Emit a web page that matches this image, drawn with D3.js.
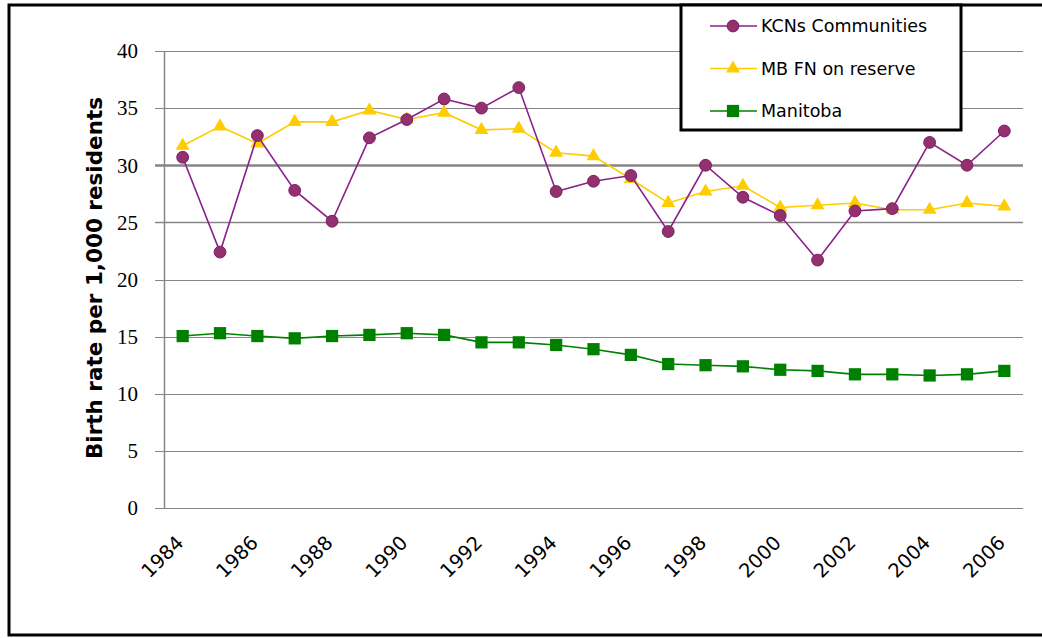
<!DOCTYPE html>
<html>
<head>
<meta charset="utf-8">
<script src="https://cdn.jsdelivr.net/npm/d3@7"></script>
<style>
  body { margin: 0; background: #fff; }
  svg { display: block; }
</style>
</head>
<body>
<div id="chart"></div>
<script>
const years = [1984, 1985, 1986, 1987, 1988, 1989, 1990, 1991, 1992, 1993, 1994, 1995,
  1996, 1997, 1998, 1999, 2000, 2001, 2002, 2003, 2004, 2005, 2006];
const kcns = [30.7, 22.4, 32.6, 27.8, 25.1, 32.4, 34.0, 35.8, 35.0, 36.8, 27.7, 28.6,
  29.1, 24.2, 30.0, 27.2, 25.6, 21.7, 26.0, 26.2, 32.0, 30.0, 33.0];
const mbfn = [31.7, 33.4, 31.9, 33.8, 33.8, 34.8, 34.0, 34.6, 33.1, 33.2, 31.1, 30.8,
  28.8, 26.7, 27.7, 28.2, 26.3, 26.5, 26.7, 26.1, 26.1, 26.7, 26.4];
const manitoba = [15.05, 15.3, 15.05, 14.85, 15.05, 15.15, 15.3, 15.15, 14.5, 14.5, 14.27, 13.9,
  13.4, 12.6, 12.5, 12.4, 12.1, 12.0, 11.7, 11.7, 11.6, 11.7, 12.0];
const yTicks = [0, 5, 10, 15, 20, 25, 30, 35, 40];
const xLabels = [1984, 1986, 1988, 1990, 1992, 1994, 1996, 1998, 2000, 2002, 2004, 2006];

const W = 1042, H = 638;
const m = { top: 51, right: 19, bottom: 130, left: 164 };
const w = W - m.left - m.right, h = H - m.top - m.bottom;

const svg = d3.select('#chart').append('svg').attr('width', W).attr('height', H);

// Rahmen (rechte Kante liegt ausserhalb des Bildes)
svg.append('path')
  .attr('d', `M${W + 5},5 H9 V635 H${W + 5}`)
  .attr('fill', 'none').attr('stroke', '#000').attr('stroke-width', 3);

const g = svg.append('g').attr('transform', `translate(${m.left},${m.top})`);

const x = d3.scaleBand().domain(years).range([0, w]);
const y = d3.scaleLinear().domain([0, 40]).range([h, 0]);
const cx = d => x(d) + x.bandwidth() / 2;

// Gitterlinien
g.selectAll('.grid').data(yTicks).join('line')
  .attr('x1', -9).attr('x2', w)
  .attr('y1', d => Math.round(y(d)) + 0.5).attr('y2', d => Math.round(y(d)) + 0.5)
  .attr('stroke', '#868686')
  .attr('stroke-width', d => d === 30 ? 2.5 : (d === 25 ? 1.6 : 1.2));

// Y-Achse
g.append('line').attr('x1', 0.5).attr('x2', 0.5).attr('y1', 0).attr('y2', h)
  .attr('stroke', '#868686').attr('stroke-width', 1.5);

g.selectAll('.ylbl').data(yTicks).join('text')
  .attr('x', -26).attr('y', d => y(d))
  .attr('dy', '0.35em').attr('text-anchor', 'end')
  .attr('font-family', '"Liberation Serif", serif').attr('font-size', 21)
  .attr('fill', '#000').text(d => d);

// X-Beschriftung
g.selectAll('.xlbl').data(xLabels).join('text')
  .attr('transform', d => `translate(${cx(d) + 2},${h + 36}) rotate(-45)`)
  .attr('text-anchor', 'end')
  .attr('font-family', '"DejaVu Sans", sans-serif').attr('font-size', 19.5)
  .attr('fill', '#000').text(d => d);

// Achsentitel
svg.append('text')
  .attr('transform', `translate(102,278) rotate(-90)`)
  .attr('text-anchor', 'middle')
  .attr('font-family', '"DejaVu Sans", sans-serif').attr('font-weight', 'bold')
  .attr('font-size', 21.5).attr('fill', '#000')
  .text('Birth rate per 1,000 residents');

const series = [
  { name: 'KCNs Communities', values: kcns, line: '#8B1F8B', fill: '#95306E', shape: 'circle' },
  { name: 'MB FN on reserve', values: mbfn, line: '#FFCC00', fill: '#FFCC00', shape: 'triangle' },
  { name: 'Manitoba', values: manitoba, line: '#008000', fill: '#008000', shape: 'square' }
];

const symbolOf = s => {
  if (s === 'circle') return d3.symbol(d3.symbolCircle, 110)();
  if (s === 'triangle') return d3.symbol(d3.symbolTriangle, 85)();
  return d3.symbol(d3.symbolSquare, 150)();
};

const line = d3.line().x(d => cx(d.year)).y(d => y(d.v));

// Manitoba zuerst, dann MB FN, dann KCNs
[series[2], series[1], series[0]].forEach(s => {
  const pts = years.map((yr, i) => ({ year: yr, v: s.values[i] }));
  g.append('path').datum(pts).attr('d', line)
    .attr('fill', 'none').attr('stroke', s.line).attr('stroke-width', 1.6);
  g.selectAll(null).data(pts).join('path')
    .attr('transform', d => `translate(${cx(d.year)},${y(d.v)})`)
    .attr('d', symbolOf(s.shape))
    .attr('fill', s.fill)
    .attr('stroke', s.shape === 'circle' ? '#7A1F6A' : 'none').attr('stroke-width', 1);
});

// Legende
const lg = svg.append('g').attr('transform', 'translate(681,5)');
lg.append('rect').attr('x', 0).attr('y', 0).attr('width', 280).attr('height', 125)
  .attr('fill', '#fff').attr('stroke', '#000').attr('stroke-width', 3);
series.forEach((s, i) => {
  const ry = 21 + i * 42.5;
  lg.append('line').attr('x1', 29).attr('x2', 76).attr('y1', ry).attr('y2', ry)
    .attr('stroke', s.line).attr('stroke-width', 1.6);
  lg.append('path').attr('transform', `translate(52,${ry})`).attr('d', symbolOf(s.shape))
    .attr('fill', s.fill)
    .attr('stroke', s.shape === 'circle' ? '#7A1F6A' : 'none');
  lg.append('text').attr('x', 80).attr('y', ry).attr('dy', '0.35em')
    .attr('font-family', '"DejaVu Sans", sans-serif').attr('font-size', 17.5)
    .attr('fill', '#000').text(s.name);
});
</script>
</body>
</html>
